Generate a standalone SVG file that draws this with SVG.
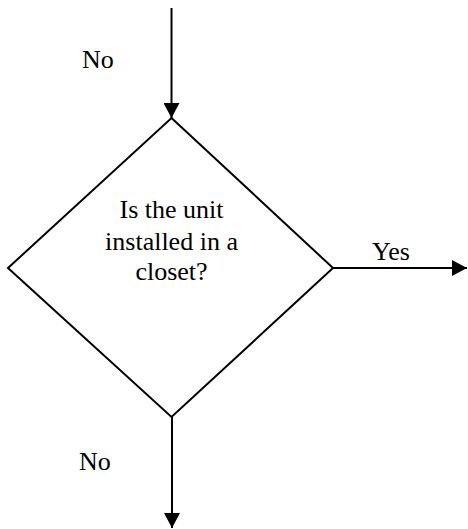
<svg xmlns="http://www.w3.org/2000/svg" width="468" height="529" viewBox="0 0 468 529">
<style>
.t{font-family:"Liberation Serif","Times New Roman",serif;font-size:26px;fill:#000}
.ln{stroke:#000;stroke-width:2;fill:none}
</style>
<defs>
<marker id="ah" markerUnits="userSpaceOnUse" markerWidth="15" markerHeight="16" refX="15" refY="8" orient="auto">
<path d="M0,0 L15,8 L0,16 z" fill="#000"/>
</marker>
</defs>
<rect width="468" height="529" fill="#fff"/>
<g id="connectors">
<path class="ln" d="M171.5,8 L171.5,118" marker-end="url(#ah)"/>
<path class="ln" d="M333,268 L467,268" marker-end="url(#ah)"/>
<path class="ln" d="M172,417 L172,528" marker-end="url(#ah)"/>
<text class="t" x="82" y="68">No</text>
<text class="t" x="372" y="260">Yes</text>
<text class="t" x="79" y="470">No</text>
</g>
<g id="decision">
<polygon class="ln" points="171.5,118 333,268 171.5,417 8,268"/>
<text class="t" text-anchor="middle" x="171.5" y="218">Is the unit</text>
<text class="t" text-anchor="middle" x="171.5" y="250">installed in a</text>
<text class="t" text-anchor="middle" x="171.5" y="280">closet?</text>
</g>
</svg>
